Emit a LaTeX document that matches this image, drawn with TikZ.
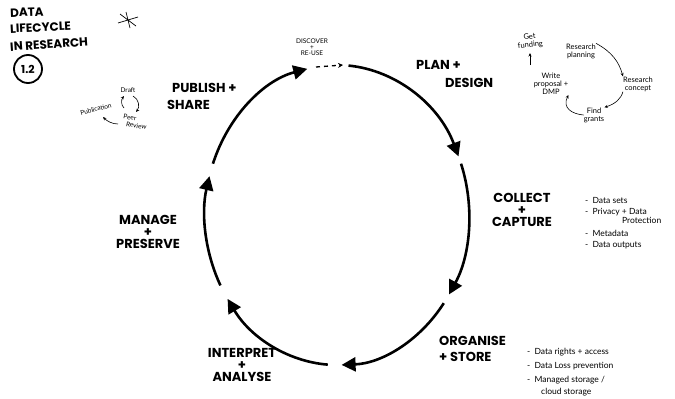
\documentclass[tikz,border=0pt]{standalone}
\usepackage{fontspec}
\setmainfont{Poppins}
\newfontfamily\notefont{Lato}
\usetikzlibrary{arrows.meta,calc}
\begin{document}
\begin{tikzpicture}[x=1pt,y=-1pt,
  stage/.style={font=\fontsize{13}{15}\selectfont\bfseries, align=center, inner sep=0},
  title/.style={font=\fontsize{12}{13}\selectfont\bfseries, inner sep=0, anchor=west},
  note/.style={font=\notefont\fontsize{8.5}{9.5}\selectfont, align=left, inner sep=0, anchor=west},
  sub/.style={font=\notefont\fontsize{7.5}{8}\selectfont, align=center, inner sep=0},
  tiny/.style={font=\notefont\fontsize{6.5}{7}\selectfont, align=center, inner sep=0},
  cyc/.style={line width=2.6pt, -{Triangle[length=14pt,width=14pt]}},
  smallarr/.style={line width=0.6pt, -{Stealth[length=3.5pt,width=3pt]}}]
\useasboundingbox (0,0) rectangle (675,399);
\fill[white] (0,0) rectangle (675,399);

% title
\node[title, rotate=2] (t1) at (10,13) {DATA};
\node[title, rotate=3] (t2) at (10,29) {LIFECYCLE};
\node[title, rotate=4] (t3) at (10,47) {IN RESEARCH};
\node[draw, circle, line width=1.8pt, minimum size=28pt, inner sep=0,
      font=\fontsize{11}{12}\selectfont\bfseries] (num) at (28,69) {1.2};
\coordinate (ast) at (128,20);
\draw[line width=0.7pt] ($(ast)+(-10,3)$) -- ($(ast)+(10,-3)$)
  ($(ast)+(-2,-8)$) -- ($(ast)+(2,8)$)
  ($(ast)+(-8,-6)$) -- ($(ast)+(8,6)$);

% cycle points on ellipse centre (337,215), rx 132, ry 150
\coordinate (c) at (337,215);
\coordinate (pA) at ({337+132*cos(-85)},{215+150*sin(-85)});
\coordinate (pB) at ({337+132*cos(-20)},{215+150*sin(-20)});
\coordinate (pC) at ({337+132*cos(36)},{215+150*sin(36)});
\coordinate (pD) at ({337+132*cos(94)},{215+150*sin(94)});
\coordinate (pE) at ({337+132*cos(152)},{215+150*sin(152)});
\coordinate (pF) at ({337+132*cos(200)},{215+150*sin(200)});
\draw[cyc] (pA) arc[start angle=-85, end angle=-23, x radius=132, y radius=150];
\draw[cyc] (pB) arc[start angle=-20, end angle=32, x radius=132, y radius=150];
\draw[cyc] (pC) arc[start angle=36, end angle=88, x radius=132, y radius=150];
\draw[cyc] (pD) arc[start angle=94, end angle=146, x radius=132, y radius=150];
\draw[cyc] (pE) arc[start angle=152, end angle=195, x radius=132, y radius=150];
\draw[cyc] (pF) arc[start angle=200, end angle=257, x radius=132, y radius=150];

% discover
\node[tiny] (disc) at (312,47) {DISCOVER\\[-1pt]+\\[-1pt]RE-USE};
\coordinate (dS) at (316,67);
\coordinate (dE) at (343,65);
\draw[line width=1.3pt, dash pattern=on 4pt off 4pt, -{Stealth[length=5pt,width=5pt]}] (dS) -- (dE);

% stage labels
\node[stage, anchor=west] (plan) at (416,65) {PLAN +};
\node[stage, anchor=west] (design) at (445,83) {DESIGN};
\node[stage] (collect) at (522,210) {COLLECT\\[-3pt]+\\[-3pt]CAPTURE};
\node[stage, anchor=west] (organise) at (439,341) {ORGANISE};
\node[stage, anchor=west] (store) at (439,357) {+ STORE};
\node[stage] (interp) at (242,365) {INTERPRET\\[-3pt]+\\[-3pt]ANALYSE};
\node[stage] (manage) at (148,232) {MANAGE\\[-3pt]+\\[-3pt]PRESERVE};
\node[stage, anchor=west] (publish) at (172,88) {PUBLISH +};
\node[stage, anchor=west] (share) at (167,105) {SHARE};

% collect notes
\node[note] (n1) at (585,200) {-\enspace Data sets};
\node[note] (n2) at (585,212) {-\enspace Privacy + Data};
\node[note] (n2b) at (622,220) {Protection};
\node[note] (n3) at (585,233) {-\enspace Metadata};
\node[note] (n4) at (585,245) {-\enspace Data outputs};

% organise notes
\node[note] (o1) at (527,352) {-\enspace Data rights + access};
\node[note] (o2) at (527,366) {-\enspace Data Loss prevention};
\node[note] (o3) at (527,380) {-\enspace Managed storage /};
\node[note] (o3b) at (541,392) {cloud storage};

% plan sub-cycle
\node[sub, rotate=6] (fund) at (530,41) {Get\\funding};
\node[sub] (rplan) at (581,51) {Research\\planning};
\node[sub] (rconc) at (638,84) {Research\\concept};
\node[sub] (grants) at (594,115) {Find\\grants};
\node[sub] (write) at (551,84) {Write\\proposal +\\DMP};
\coordinate (wtop) at (530,65);
\coordinate (ftop) at (530,53);
\draw[smallarr] (rplan.north east) .. controls (612,52) and (619,62) .. (rconc.north west);
\draw[smallarr] (rconc.south west) .. controls (621,99) and (615,104) .. (grants.north east);
\draw[smallarr] (grants.west) .. controls (572,114) and (562,108) .. (write.south east);
\draw[smallarr] (wtop) -- (ftop);

% publish sub-cycle
\node[tiny] (draft) at (128,90) {Draft};
\node[tiny, align=left, rotate=-10] (peer) at (135,122) {Peer\\\hspace*{4pt}Review};
\node[tiny, rotate=15] (pub) at (96,109) {Publication};
\coordinate (dr1) at (133,96);
\coordinate (dr2) at (136,112);
\coordinate (pr1) at (118,124);
\coordinate (pr2) at (103,117);
\coordinate (pb1) at (124,108);
\coordinate (pb2) at (124,96);
\draw[smallarr] (dr1) .. controls (139,99) and (140,107) .. (dr2);
\draw[smallarr] (pr1) .. controls (112,124) and (107,121) .. (pr2);
\draw[smallarr] (pb1) .. controls (121,105) and (121,100) .. (pb2);
\end{tikzpicture}
\end{document}
